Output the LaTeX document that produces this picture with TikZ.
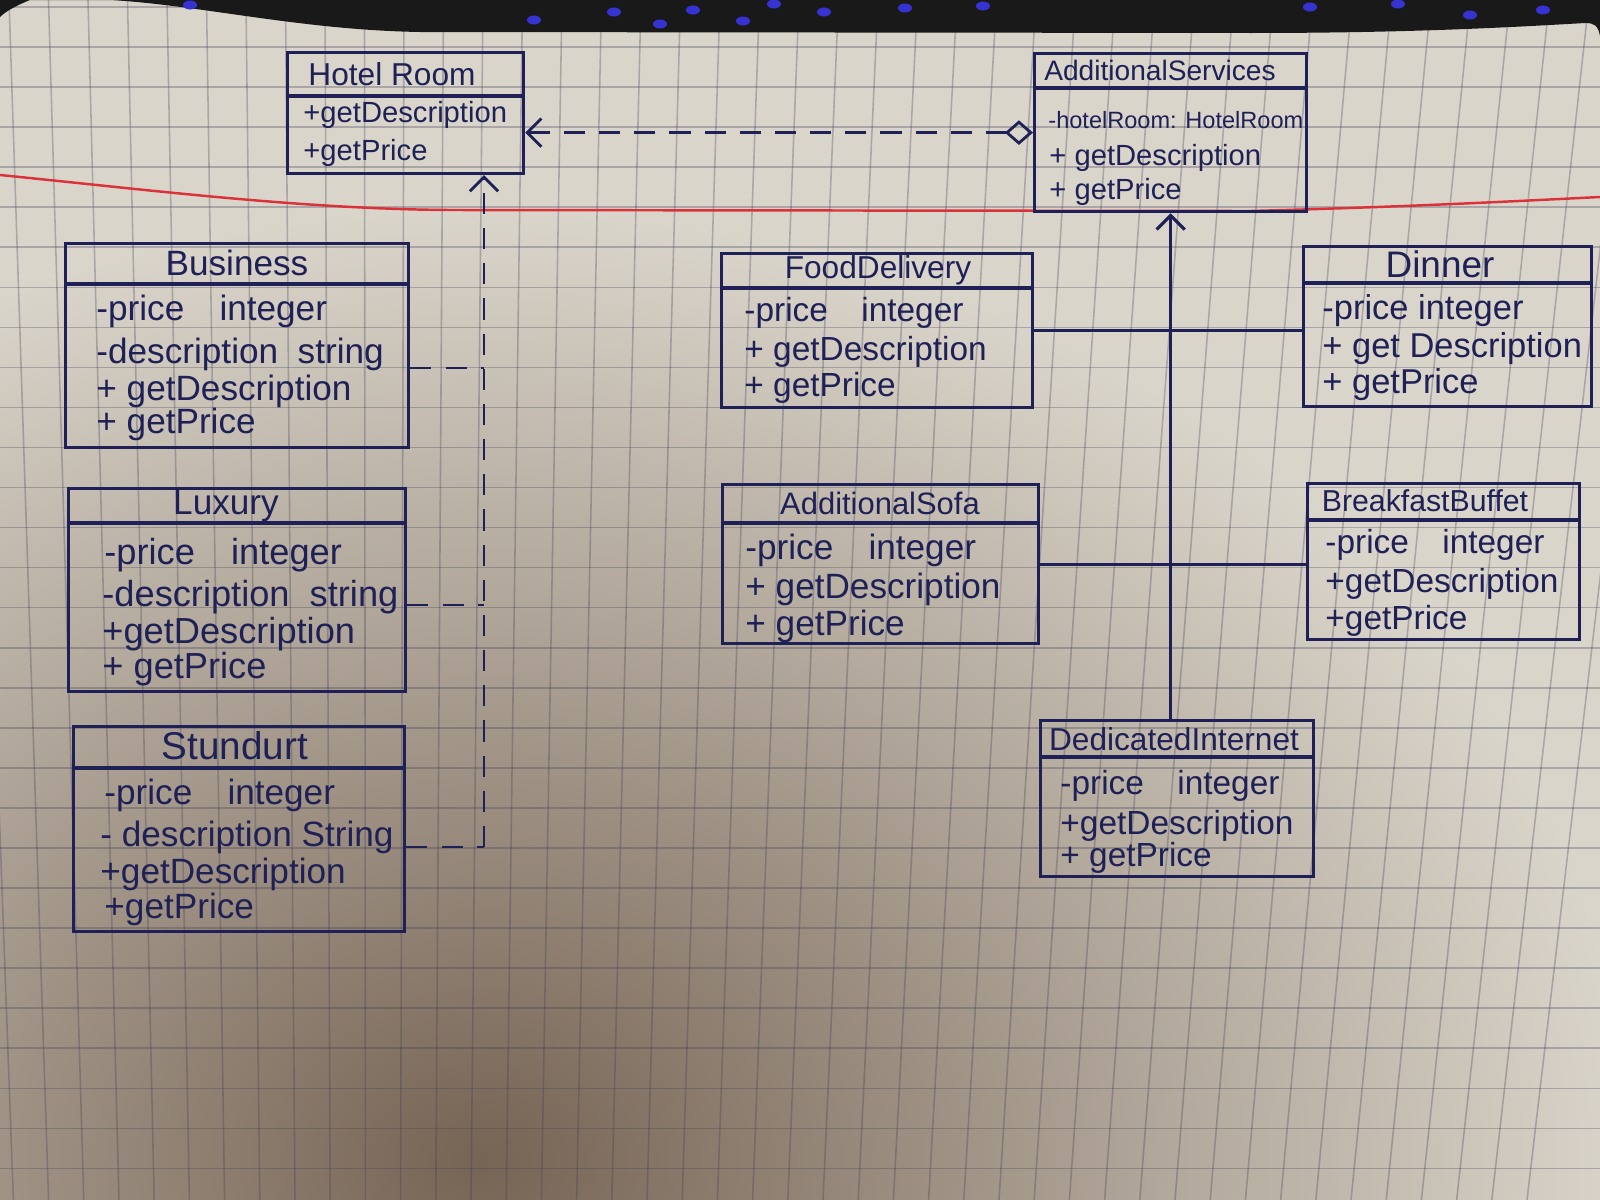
\documentclass[tikz,border=0pt]{standalone}
\usepackage{fontspec}
\setmainfont{Liberation Sans}
\usetikzlibrary{arrows.meta}
\definecolor{ink}{RGB}{30,32,86}
\definecolor{paper}{RGB}{218,213,203}
\definecolor{shadow}{RGB}{118,100,84}
\definecolor{gridink}{RGB}{60,60,85}
\definecolor{marginred}{RGB}{218,50,56}
\definecolor{led}{RGB}{55,50,210}

\begin{document}
\begin{tikzpicture}[x=0.01cm, y=-0.01cm,
    cls/.style={draw=ink, line width=0.9pt, anchor=north west, inner sep=0pt},
    head/.style={text=ink, font=\fontsize{#1}{#1}\selectfont},
    memb/.style={text=ink, anchor=west, font=\fontsize{#1}{#1}\selectfont},
    sline/.style={draw=ink, line width=0.9pt},
    dline/.style={draw=ink, line width=0.8pt, dash pattern=on 6pt off 4pt},
    tipbarb/.style={-{Straight Barb[length=4pt, width=8pt]}}]
  \useasboundingbox (0,0) rectangle (1600,1200);
  \clip (0,0) rectangle (1600,1200);
  % paper, shadow, squares, margin
  \fill[paper] (0,0) rectangle (1600,1200);
  \shade[inner color=shadow, outer color=paper] (480,1160) ellipse (11.5cm and 9.5cm);
  \foreach \k in {-14,...,30}
    \draw[gridink, draw opacity=0.3, line width=0.45pt] ({483+39.5*\k},0) -- ({471+35.2*\k},1200);
  \foreach \k in {-1,...,29}
    \draw[gridink, draw opacity=0.3, line width=0.45pt] (0,{47+40.05*\k}) -- (1600,{47+40.05*\k});
  \draw[marginred, line width=0.7pt] (0,175) .. controls (150,190) and (300,209) .. (450,210) -- (1250,211) .. controls (1400,207) and (1500,202) .. (1600,197);
  % top edge of the sheet
  \fill[black!90] (0,0) -- (1600,0) -- (1600,36) .. controls (1598,26) and (1595,23) .. (1585,23) .. controls (1500,28) and (1400,33) .. (1250,33) -- (420,32) .. controls (300,30) and (200,5) .. (110,0) -- (30,0) .. controls (15,6) and (5,12) .. (0,17) -- cycle;
  \foreach \p in {(190,5),(534,20),(614,12),(660,24),(693,10),(743,21),(774,4),(824,12),(905,8),(983,6),(1310,7),(1398,4),(1470,15),(1543,10)}
    \fill[led] \p ellipse (0.07cm and 0.045cm);

  % HotelRoom
  \node[cls, minimum width=2.36cm, minimum height=1.21cm] (hotel) at (286,51) {};
  \draw[sline] (hotel.north west) ++(0,45) -- ++(236,0);
  \node[head=9] (hotel-t) at (392,74) {Hotel Room};
  \node[memb=8.3] (hotel-1) at (291,115) {+getDescription};
  \node[memb=8.3] (hotel-2) at (291,153) {+getPrice};

  % AdditionalServices
  \node[cls, minimum width=2.72cm, minimum height=1.58cm] (addsrv) at (1033,52) {};
  \draw[sline] (addsrv.north west) ++(0,36) -- ++(272,0);
  \node[head=8] (addsrv-t) at (1160,70) {AdditionalServices};
  \node[memb=6.7] (addsrv-1) at (1036,120) {-hotelRoom: HotelRoom};
  \node[memb=8.3] (addsrv-2) at (1037,158) {+ getDescription};
  \node[memb=8.3] (addsrv-3) at (1037,192) {+ getPrice};

  % rooms
  \node[cls, minimum width=3.43cm, minimum height=2.04cm] (bus) at (64,242) {};
  \draw[sline] (bus.north west) ++(0,42) -- ++(343,0);
  \node[head=10] (bus-t) at (237,263) {Business};
  \node[memb=10] (bus-1) at (84,311) {-price\quad integer};
  \node[memb=10] (bus-2) at (84,354) {-description~~string};
  \node[memb=10] (bus-3) at (84,391) {+ getDescription};
  \node[memb=10] (bus-4) at (84,424) {+ getPrice};

  \node[cls, minimum width=3.37cm, minimum height=2.03cm] (lux) at (67,487) {};
  \draw[sline] (lux.north west) ++(0,36) -- ++(337,0);
  \node[head=10] (lux-t) at (226,506) {Luxury};
  \node[memb=10.3] (lux-1) at (92,555) {-price\quad integer};
  \node[memb=10.3] (lux-2) at (90,597) {-description~~string};
  \node[memb=10.3] (lux-3) at (90,634) {+getDescription};
  \node[memb=10.3] (lux-4) at (90,669) {+ getPrice};

  \node[cls, minimum width=3.31cm, minimum height=2.05cm] (std) at (72,725) {};
  \draw[sline] (std.north west) ++(0,43) -- ++(331,0);
  \node[head=11] (std-t) at (235,746) {Stundurt};
  \node[memb=10] (std-1) at (92,795) {-price\quad integer};
  \node[memb=10] (std-2) at (88,837) {- description String};
  \node[memb=10] (std-3) at (88,874) {+getDescription};
  \node[memb=10] (std-4) at (92,909) {+getPrice};

  % services
  \node[cls, minimum width=3.11cm, minimum height=1.54cm] (food) at (720,252) {};
  \draw[sline] (food.north west) ++(0,36) -- ++(311,0);
  \node[head=9] (food-t) at (878,270) {FoodDelivery};
  \node[memb=9.5] (food-1) at (732,313) {-price\quad integer};
  \node[memb=9.5] (food-2) at (732,352) {+ getDescription};
  \node[memb=9.5] (food-3) at (732,388) {+ getPrice};

  \node[cls, minimum width=2.88cm, minimum height=1.6cm] (din) at (1302,245) {};
  \draw[sline] (din.north west) ++(0,38) -- ++(288,0);
  \node[head=10.5] (din-t) at (1440,264) {Dinner};
  \node[memb=9.8] (din-1) at (1310,311) {-price integer};
  \node[memb=9.8] (din-2) at (1310,349) {+ get Description};
  \node[memb=9.8] (din-3) at (1310,385) {+ getPrice};

  \node[cls, minimum width=3.16cm, minimum height=1.59cm] (sofa) at (721,483) {};
  \draw[sline] (sofa.north west) ++(0,40) -- ++(316,0);
  \node[head=8.8] (sofa-t) at (880,503) {AdditionalSofa};
  \node[memb=10] (sofa-1) at (733,550) {-price\quad integer};
  \node[memb=10] (sofa-2) at (733,589) {+ getDescription};
  \node[memb=10] (sofa-3) at (733,626) {+ getPrice};

  \node[cls, minimum width=2.72cm, minimum height=1.56cm] (bf) at (1306,482) {};
  \draw[sline] (bf.north west) ++(0,38) -- ++(272,0);
  \node[head=8.6] (bf-t) at (1425,501) {BreakfastBuffet};
  \node[memb=9.5] (bf-1) at (1313,545) {-price\quad integer};
  \node[memb=9.5] (bf-2) at (1313,584) {+getDescription};
  \node[memb=9.5] (bf-3) at (1313,621) {+getPrice};

  \node[cls, minimum width=2.73cm, minimum height=1.56cm] (ded) at (1039,719) {};
  \draw[sline] (ded.north west) ++(0,38) -- ++(273,0);
  \node[head=9] (ded-t) at (1174,739) {DedicatedInternet};
  \node[memb=9.5] (ded-1) at (1048,786) {-price\quad integer};
  \node[memb=9.5] (ded-2) at (1048,826) {+getDescription};
  \node[memb=9.5] (ded-3) at (1048,858) {+ getPrice};

  % connectors
  \draw[dline, {Diamond[open, length=8pt, width=7pt]}-{Straight Barb[length=4pt, width=8pt]}] (addsrv.west) -- (addsrv.west -| hotel.east);
  \coordinate (j1) at (484,368);
  \coordinate (j2) at (484,605);
  \coordinate (j3) at (484,847);
  \draw[dline] (j1 -| bus.east) -- (j1);
  \draw[dline] (j2 -| lux.east) -- (j2);
  \draw[dline] (j3 -| std.east) -- (j3);
  \draw[dline, tipbarb] (j3) -- (j3 |- hotel.south);
  \draw[sline, tipbarb] (ded.north -| addsrv.south) -- (addsrv.south);
  \draw[sline] (food.east) -- (food.east -| din.west);
  \draw[sline] (sofa.east) -- (sofa.east -| bf.west);
\end{tikzpicture}
\end{document}
